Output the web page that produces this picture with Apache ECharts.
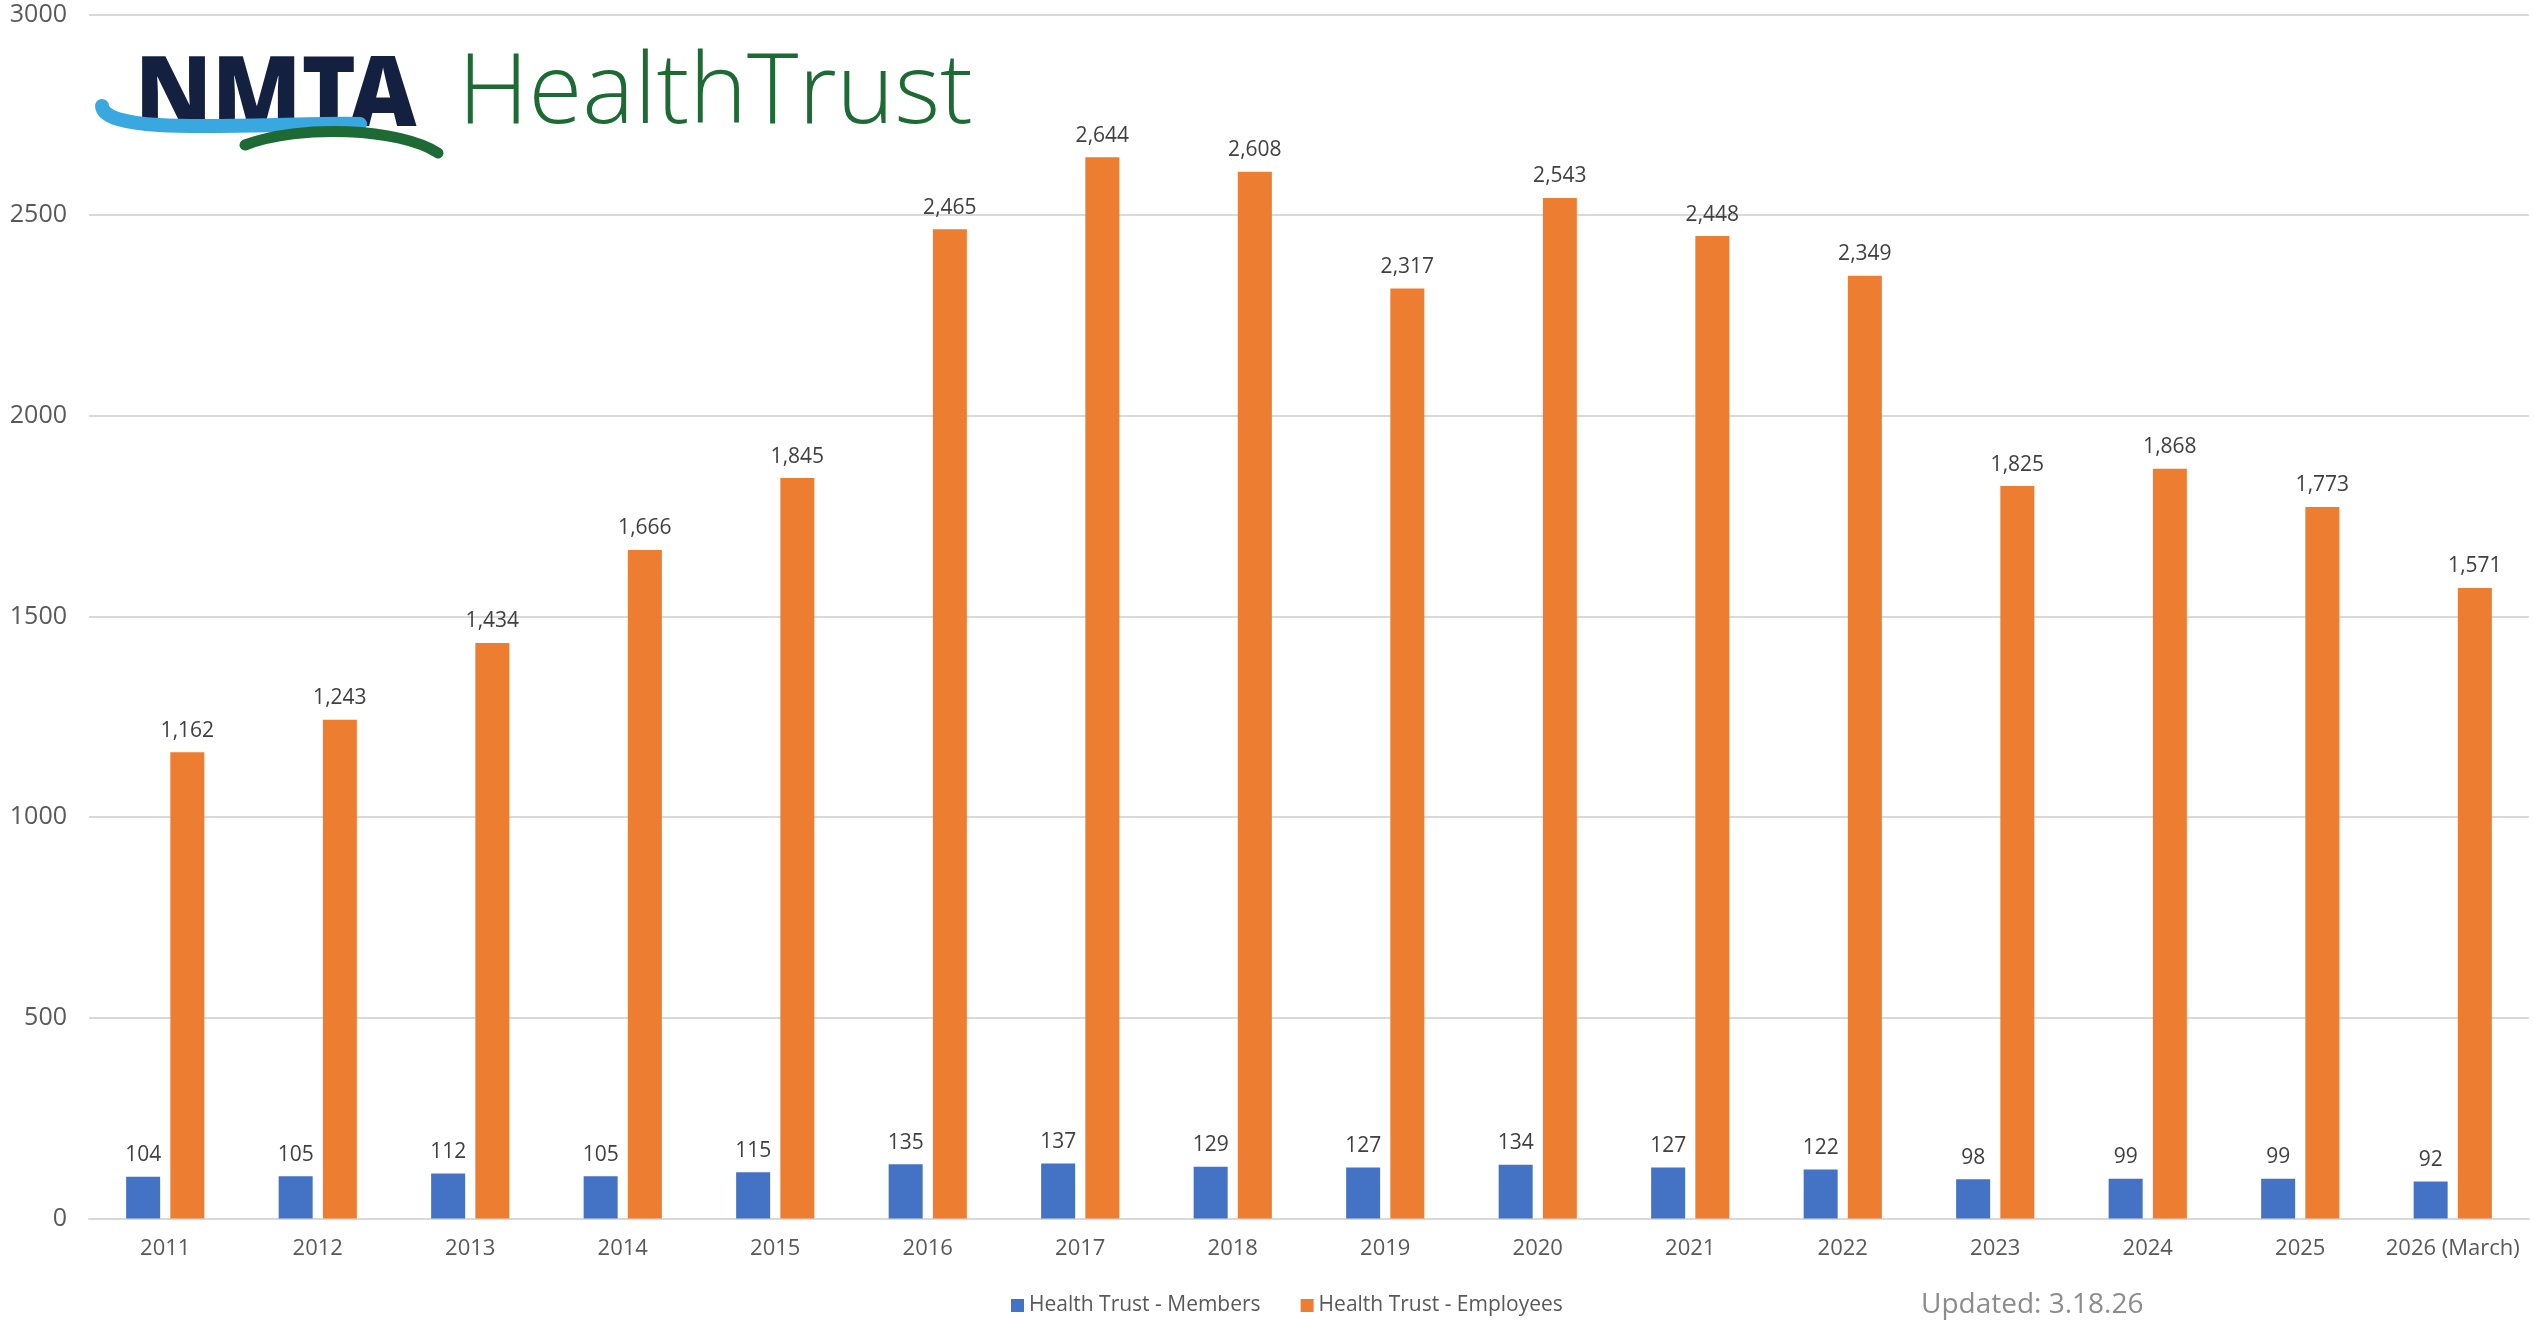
<!DOCTYPE html>
<html>
<head>
<meta charset="utf-8">
<script src="https://cdn.jsdelivr.net/npm/echarts@6/dist/echarts.min.js"></script>
<style>
html,body{margin:0;padding:0;background:#fff;}
#chart{width:2534px;height:1321px;}
</style>
</head>
<body>
<div id="chart"></div>
<script>
const categories = ['2011','2012','2013','2014','2015','2016','2017','2018','2019','2020','2021','2022','2023','2024','2025','2026 (March)'];
const members = [104,105,112,105,115,135,137,129,127,134,127,122,98,99,99,92];
const employees = [1162,1243,1434,1666,1845,2465,2644,2608,2317,2543,2448,2349,1825,1868,1773,1571];
const seriesNames = ['Health Trust - Members','Health Trust - Employees'];
const yTicks = [0,500,1000,1500,2000,2500,3000];

const chart = echarts.init(document.getElementById('chart'));
const font = '"Open Sans", "Noto Sans", sans-serif';
const fmt = p => Number(p.value).toLocaleString('en-US');

chart.setOption({
  animation: false,
  backgroundColor: '#ffffff',
  grid: {left: 89, right: 5, top: 14.5, bottom: 102.5, containLabel: false},
  legend: {
    data: seriesNames,
    left: 1006, top: 1290,
    itemWidth: 13, itemHeight: 13, itemGap: 40,
    icon: 'rect',
    textStyle: {color: '#595959', fontSize: 21, fontFamily: font}
  },
  xAxis: {
    type: 'category',
    data: categories,
    axisLine: {lineStyle: {color: '#d9d9d9', width: 2}},
    axisTick: {show: false},
    axisLabel: {color: '#595959', fontSize: 22, fontFamily: font, margin: 19, interval: 0}
  },
  yAxis: {
    type: 'value',
    min: yTicks[0], max: yTicks[yTicks.length-1], interval: 500,
    axisLine: {show: false},
    axisTick: {show: false},
    splitLine: {lineStyle: {color: '#d9d9d9', width: 2}},
    axisLabel: {color: '#595959', fontSize: 25, fontFamily: font, margin: 22, formatter: v => String(v)}
  },
  series: [
    {
      name: seriesNames[0], type: 'bar', data: members,
      barWidth: 34, barGap: '30%',
      itemStyle: {color: '#4472C4'},
      label: {show: true, position: 'top', distance: 11, color: '#404040', fontSize: 21, fontFamily: font, formatter: fmt}
    },
    {
      name: seriesNames[1], type: 'bar', data: employees,
      barWidth: 34,
      itemStyle: {color: '#ED7D31'},
      label: {show: true, position: 'top', distance: 11, color: '#404040', fontSize: 21, fontFamily: font, formatter: fmt}
    }
  ],
  graphic: [
    {type: 'rect', left: 95, top: 50, shape: {width: 885, height: 112}, style: {fill: '#ffffff'}, z: 10},
    {type: 'text', left: 135, top: 50, z: 12, scaleX: 1.05, scaleY: 1.1,
      style: {text: 'NMTA', fill: '#13203f', font: '900 88px "Noto Sans", "DejaVu Sans", sans-serif'}},
    {type: 'bezierCurve', z: 13,
      shape: {x1: 102, y1: 106, x2: 360, y2: 124, cpx1: 105, cpy1: 138, cpx2: 270, cpy2: 122},
      style: {stroke: '#3aa8e0', lineWidth: 14, fill: 'none', lineCap: 'round'}},
    {type: 'bezierCurve', z: 13,
      shape: {x1: 245, y1: 145, x2: 438, y2: 153, cpx1: 300, cpy1: 124, cpx2: 400, cpy2: 128},
      style: {stroke: '#1e6a34', lineWidth: 11, fill: 'none', lineCap: 'round'}},
    {type: 'text', left: 458, top: 46, z: 12,
      style: {text: 'HealthTrust', fill: '#1e6a34', font: '300 98px "Open Sans", Lato, sans-serif'}},
    {type: 'text', left: 1921, top: 1291, z: 12,
      style: {text: 'Updated: 3.18.26', fill: '#8c8c8c', font: '28px "Open Sans", "Noto Sans", sans-serif'}}
  ]
});
</script>
</body>
</html>
